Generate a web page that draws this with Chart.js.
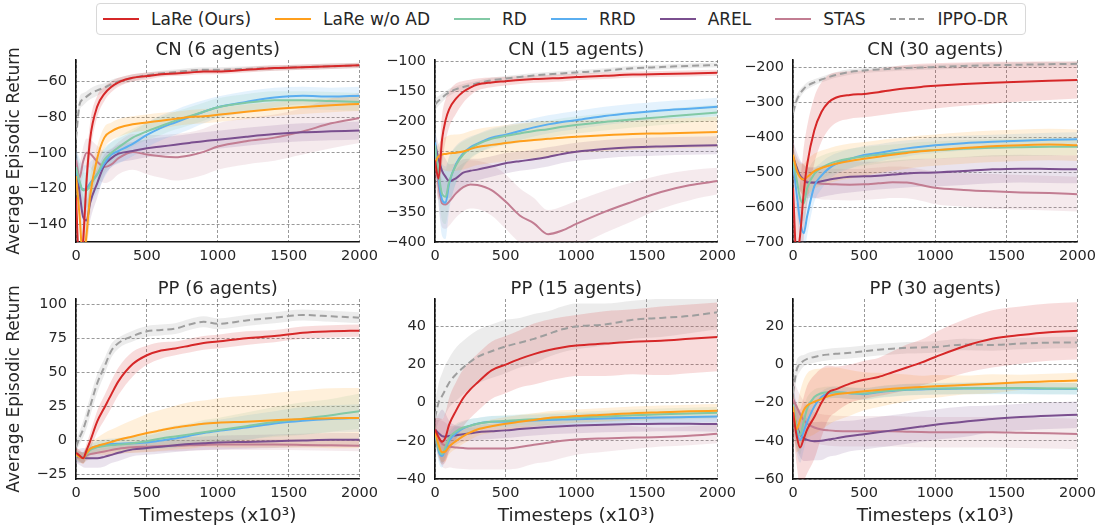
<!DOCTYPE html>
<html>
<head>
<meta charset="utf-8">
<script src="https://cdn.jsdelivr.net/npm/chart.js@4.4.1/dist/chart.umd.min.js"></script>
<style>
  body { margin: 0; width: 1100px; height: 529px; overflow: hidden; background: #fff; position: relative; font-family: 'DejaVu Sans', sans-serif; }
  #legend { position: absolute; left: 96px; top: 3px; width: 930px; height: 32px; box-sizing: border-box; border: 1px solid #d8d8d8; border-radius: 4px;
            display: flex; align-items: center; padding-left: 6px; font-size: 17px; color: #262626; background: #fff; z-index: 5; }
  .item { display: flex; align-items: center; margin-right: 24px; white-space: nowrap; }
  .swatch { width: 36px; height: 2.5px; margin-right: 12px; }
</style>
</head>
<body>
<div id="legend"></div>
<script>
// x positions (timesteps x10^3) shared by every curve
const steps = [0, 25, 50, 75, 100, 150, 200, 250, 300, 400, 500, 600, 700, 800, 900, 1000, 1200, 1400, 1600, 1800, 2000];
const xTicks = [0, 500, 1000, 1500, 2000];

const seriesNames = ['LaRe (Ours)', 'LaRe w/o AD', 'RD', 'RRD', 'AREL', 'STAS', 'IPPO-DR'];
const seriesColors = ['#d62728', '#ff9f1c', '#82c9a5', '#5aaef0', '#7a4f8f', '#c27d92', '#9e9e9e'];

// ---- CN (6 agents)
const cn6Ticks = [-140, -120, -100, -80, -60];
const cn6Lare = [-125,-165,-150,-115,-92,-74,-67,-63,-60.5,-58,-57,-56,-55.5,-55,-54.5,-54.5,-53.5,-52.5,-52,-51.5,-51];
const cn6LareSd = [8,10,10,10,9,6,4,3,2.5,2,2,1.5,1.5,1.5,1.5,1.5,1.5,1.5,1.5,1.5,1.5];
const cn6NoAd = [-113,-135,-160,-145,-124,-103,-91.5,-88,-86,-84,-83,-82,-81,-80,-79.5,-78.7,-77,-75.5,-74.3,-73.3,-72.6];
const cn6NoAdSd = [8,10,12,12,10,7,6,5,5,4.5,4.5,4.5,4,4,4,4,4,4,4,4,4];
const cn6Rd = [-108,-116,-121,-121,-118,-112,-104,-100,-97,-91.5,-88,-85,-82,-79.5,-77,-74.5,-72,-70.5,-70.5,-71,-71.5];
const cn6RdSd = [10,10,10,10,9,8,7,6,6,5,5,5,5,5,5,5,5,5,5,5,5];
const cn6Rrd = [-110,-117,-121,-120,-117,-112,-106,-101,-99,-95,-90,-86,-83,-80,-77,-74.5,-71.5,-69,-68,-68.5,-68];
const cn6RrdSd = [12,14,14,13,12,10,8,7,7,7,7,7,7,7,6.5,6,6,5.5,5,5,5];
const cn6Arel = [-108,-122,-136,-138,-128,-117,-107,-103,-100.5,-99,-97.5,-96.5,-95.5,-94.5,-93.5,-92.7,-91,-89.5,-88.5,-88,-87.5];
const cn6ArelSd = [10,12,12,12,10,8,6,5,5,5,5,5,5,5,5,5,5,5,5,5,5];
const cn6Stas = [-104,-114,-105,-100,-100.5,-105,-108,-106.5,-103,-99.5,-101,-102,-102.5,-101.5,-99.5,-96.5,-93.5,-91.5,-88,-83.5,-80.5];
const cn6StasSd = [8,8,8,8,8,9,9,9,9,10,11,12,13,13,13,13,13,13,13,14,14];
const cn6Ippo = [-92,-73,-70,-68.5,-67,-65,-63.5,-61.5,-60,-58,-56.5,-55.5,-54.8,-54,-53.5,-53.5,-53,-52.5,-52,-51.5,-51];
const cn6IppoSd = [5,4,3.5,3,3,3,2.5,2.5,2,2,1.5,1.5,1.5,1.5,1.5,1.5,1.5,1.5,1.5,1.5,1.5];

// ---- CN (15 agents)
const cn15Ticks = [-400, -350, -300, -250, -200, -150, -100];
const cn15Lare = [-265,-295,-230,-198,-180,-162,-151,-144,-139,-135.5,-133.5,-131.5,-130,-129,-128,-126.5,-124.5,-122.5,-121.5,-120.5,-119.5];
const cn15LareSd = [25,35,40,35,30,25,18,13,10,8,7,6.5,6,6,6,5.5,5.5,5,5,5,5];
const cn15NoAd = [-268,-258,-255,-254,-253,-252,-250,-246,-242.5,-239,-236,-233,-231,-229,-227,-225.5,-223,-221,-220,-219,-217.5];
const cn15NoAdSd = [15,20,25,28,30,30,30,30,30,30,30,30,30,29,28,27,26,26,25,25,25];
const cn15Rd = [-240,-285,-320,-325,-300,-272,-255,-245,-238,-229,-224,-220,-216,-213,-209,-206,-201,-197,-193,-189,-185.5];
const cn15RdSd = [20,35,45,45,40,30,22,18,16,15,15,15,15,14,14,14,14,13,13,13,13];
const cn15Rrd = [-235,-295,-330,-335,-303,-270,-253,-243,-237,-227,-222,-216,-210,-205,-201,-198,-191,-186,-182,-179,-176];
const cn15RrdSd = [20,40,60,60,45,30,22,18,16,15,15,15,15,15,15,15,15,15,15,15,15];
const cn15Arel = [-238,-262,-282,-292,-299,-294,-285,-282,-280,-275,-269.5,-266,-263,-259,-254,-250.5,-246,-243,-241.5,-240.5,-239.5];
const cn15ArelSd = [20,25,30,30,28,25,22,20,18,17,17,16,16,16,15,15,15,15,15,15,15];
const cn15Stas = [-250,-305,-336,-338,-333,-319,-309,-304.5,-305.5,-314,-333,-356,-369,-387,-381,-370,-350,-333,-317,-306,-299];
const cn15StasSd = [30,35,40,40,40,40,40,40,40,42,45,45,42,40,40,38,35,32,28,25,22];
const cn15Ippo = [-172,-166,-161,-156,-152,-146.5,-143,-140,-137,-132,-129,-126.5,-124,-122,-120.5,-119,-116,-112,-110,-108,-106.5];
const cn15IppoSd = [10,8,7,6,6,5,5,5,4.5,4.5,4,4,4,4,4,4,4,4,4,4,4];

// ---- CN (30 agents)
const cn30Ticks = [-700, -600, -500, -400, -300, -200];
const cn30Lare = [-545,-740,-680,-560,-477,-380,-328,-300,-287,-279,-276,-271,-265,-260,-256,-253,-248,-244,-241,-238.5,-236.5];
const cn30LareSd = [150,150,150,130,110,95,85,78,72,68,67,67,67,67,66,65,62,60,57,55,53];
const cn30NoAd = [-450,-493,-515,-521,-514,-497,-488,-482,-476,-468,-462,-456,-450,-445,-440,-437,-431,-426,-423,-421,-423];
const cn30NoAdSd = [30,35,40,45,50,50,50,50,50,50,48,47,46,45,45,45,45,45,45,45,45];
const cn30Rd = [-470,-520,-575,-590,-545,-505,-488,-477,-470,-461,-455,-450,-446,-442,-439,-437,-433,-430,-428.5,-427.5,-427];
const cn30RdSd = [35,45,50,50,45,40,35,32,30,28,27,26,25,25,25,25,25,25,25,25,25];
const cn30Rrd = [-470,-560,-640,-675,-625,-540,-510,-490,-477,-462,-451,-445,-438,-432,-427,-423,-417,-413,-410,-407.5,-406];
const cn30RrdSd = [40,50,60,60,55,45,38,33,30,28,26,25,24,23,22,22,21,20,20,20,20];
const cn30Arel = [-455,-485,-510,-522,-530,-530,-526,-522,-518,-513,-512,-510,-507,-504,-502,-501,-497,-492,-490,-491,-492];
const cn30ArelSd = [45,45,45,45,45,45,45,45,45,45,42,40,40,40,40,40,40,40,40,40,40];
const cn30Stas = [-470,-495,-510,-520,-527,-531,-533,-534,-535,-536,-535,-532,-529,-530,-537,-545,-551,-555,-558,-560,-563];
const cn30StasSd = [40,40,40,40,40,42,45,45,45,45,45,45,45,45,45,47,48,50,50,50,50];
const cn30Ippo = [-330,-295,-275,-262,-253,-243,-235,-228,-222,-213,-209,-206,-204,-202,-200.5,-199,-196,-194,-192.5,-191,-190];
const cn30IppoSd = [20,15,12,10,10,9,8,8,8,8,7,7,7,7,7,7,7,7,7,7,7];

// ---- PP (6 agents)
const pp6Ticks = [-25, 0, 25, 50, 75, 100];
const pp6Lare = [-9,-11,-13,-7,-0.5,14,24,34,43.5,56,62.5,66,67.5,69.5,71.5,72.5,75,76.5,79,80,80.5];
const pp6LareSd = [4,4,4,5,6,8,9,10,10,9,7,6,5,5,5,5,5,4.5,4.5,4.5,4.5];
const pp6NoAd = [-10,-12,-13,-9,-6,-4,-2.5,-1,0.5,3,5.5,7.5,9.5,11,12.3,13,13.8,14.8,15.8,16.3,16.5];
const pp6NoAdSd = [4,4,4,5,5,6,8,9,10,12,14,15,16,17,17,18,19,20,21,22,22];
const pp6Rd = [-11,-12,-12.5,-10,-7,-5,-4,-3.5,-3,-2,-0.5,1.5,3,4.5,6,7.5,10.5,13.5,16,18.5,21.5];
const pp6RdSd = [4,4,4,4,4,4,4,4,5,5,6,7,8,8,9,9,10,11,12,12,13];
const pp6Rrd = [-11,-12,-12.5,-9,-6,-4,-3,-2.5,-2.3,-2,-1.5,0,1.5,3.5,5.5,7,9.5,12.5,14.5,15.8,16.5];
const pp6RrdSd = [4,4,4,4,4,4,4,4,4,5,5,6,7,7,8,8,9,9,10,10,10];
const pp6Arel = [-11.5,-12,-12.5,-13,-13,-13,-12,-10.5,-9,-6.5,-5.5,-4.5,-3.5,-2.5,-2,-1.5,-1,-0.5,0,0.5,0.5];
const pp6ArelSd = [5,6,7,7,7,7,7,6,6,5,5,5,5,5,5,5,5,5,5,5,5];
const pp6Stas = [-12,-12.5,-12.5,-11,-10,-9,-8,-7,-6,-5,-4.5,-4,-3.8,-3.5,-3.2,-3,-3,-3,-3.2,-3.5,-3.8];
const pp6StasSd = [4,4,4,4,4,4,4,4,4,4,4,4,4,4,4,4,4,4,4,4,4];
const pp6Ippo = [-5,2,8,16,25,42,54,66,71.5,76.5,80,81,82,85,87,85.5,88,90,92,91,90];
const pp6IppoSd = [4,5,6,7,7,7,6,5,4,4,4,4,4,4,4,4,4,4,4,4,4];

// ---- PP (15 agents)
const pp15Ticks = [-40, -20, 0, 20, 40];
const pp15Lare = [-14,-18,-20.5,-18,-11.5,-4,2.5,7,10.5,17,20,23,25.5,27.5,29,30,31,32,32.5,33.5,34.5];
const pp15LareSd = [6,10,12,13,14,15,15,15,15,15,15,15,16,16,16,16,17,17,18,18,18];
const pp15NoAd = [-15,-22,-26,-25.5,-23,-20,-17.5,-15.5,-14,-12.3,-11,-10,-9,-8,-7.5,-7,-6.3,-5.5,-5,-4.5,-4.2];
const pp15NoAdSd = [4,5,5,5,4,4,4,4,3.5,3.5,3.5,3.5,3.5,3.5,3.5,3.5,3.5,3.5,3.5,3.5,3.5];
const pp15Rd = [-15,-24,-27,-23,-18.5,-15,-13,-12,-11,-10,-9.5,-9,-8.7,-8.3,-8,-7.8,-7.2,-6.6,-6,-5.6,-5.3];
const pp15RdSd = [4,5,5,5,4,4,3.5,3.5,3,3,3,3,3,3,3,3,3,3,3,3,3];
const pp15Rrd = [-15,-25,-28,-24,-20,-16,-13.5,-12,-11,-10,-10,-9.5,-9.3,-9,-8.8,-8.6,-8.3,-8,-7.8,-7.5,-7.2];
const pp15RrdSd = [4,6,6,5,4,4,3.5,3.5,3,3,3,3,3,3,3,3,3,3,3,3,3];
const pp15Arel = [-14,-16,-17.5,-17.8,-17.5,-17,-16.5,-16,-15.5,-15,-14.5,-13.8,-13.2,-12.7,-12.3,-12,-11.5,-11.2,-11,-11,-11.2];
const pp15ArelSd = [5,10,14,12,8,5,4,4,4,4,4,4,4,4,4,4,4,4,4,4,4];
const pp15Stas = [-15,-19,-21.5,-22.5,-23,-23.5,-23.8,-24,-24,-24,-24,-23.2,-22,-21,-20,-19.3,-18.7,-18.3,-18,-17.3,-16.3];
const pp15StasSd = [6,10,12,12,11,11,11,11,11,11,11,11,10,10,9,8,7,6,5,5,5];
const pp15Ippo = [-8,0,3.5,7,10.5,15,18.5,21.5,24,27,29.5,31.5,33.5,36,38.5,40,41,43.5,44.5,45.5,47.5];
const pp15IppoSd = [8,10,12,13,13,14,14,14,14,14,14,13,13,12,12,12,11,10,10,9,9];

// ---- PP (30 agents)
const pp30Ticks = [-60, -40, -20, 0, 20];
const pp30Lare = [-25,-37,-43.5,-39,-34,-27.5,-20,-14.5,-13,-10,-8,-6.5,-4,-1.5,1,4,9.5,13.5,15.5,17,17.7];
const pp30LareSd = [10,15,20,22,23,22,18,14,12,10,10,10,11,12,12,13,14,15,15,15,15];
const pp30NoAd = [-22,-34,-29,-24,-21.5,-19.5,-18,-16.5,-15.5,-14.8,-14,-13.3,-12.7,-12.2,-11.8,-11.4,-10.7,-10,-9.3,-8.8,-8.3];
const pp30NoAdSd = [8,12,15,16,17,17,16,15,14,12,10,9,8,7,6,6,5,5,4,4,4];
const pp30Rd = [-21,-32,-37,-30,-23,-17,-15,-14.5,-14.5,-15,-15.2,-14.3,-13.6,-13.1,-12.8,-12.6,-12.4,-12.3,-12.3,-12.5,-12.6];
const pp30RdSd = [10,10,10,8,6,4,3,3,3,3,3,3,3,3,3,3,3,3,3,3,3];
const pp30Rrd = [-21,-34,-39.5,-35,-30,-22,-17,-15,-14.5,-15,-15.5,-14.5,-13.8,-13.2,-13,-12.8,-12.6,-12.5,-12.5,-12.7,-12.8];
const pp30RrdSd = [10,12,12,10,8,5,3,3,3,3,3,3,3,3,3,3,3,3,3,3,3];
const pp30Arel = [-24,-32,-36.5,-38.5,-39.5,-40.2,-40,-39.3,-38.7,-37.5,-36.5,-35.5,-34.5,-33.5,-32.5,-31.5,-30,-28.5,-27.5,-26.8,-26.3];
const pp30ArelSd = [12,12,12,12,11,10,10,9,9,8,8,8,8,8,8,8,8,7,7,7,7];
const pp30Stas = [-18,-22,-26,-29,-31,-33,-34,-34.5,-34.8,-35,-35,-35,-35,-35.2,-35.4,-35.5,-35.5,-35.5,-35.8,-36,-36.4];
const pp30StasSd = [10,10,10,10,9,8,8,8,8,8,8,8,8,8,8,8,8,8,8,8,8];
const pp30Ippo = [-15,-3,0.5,2,3,4,4.8,5.3,5.7,6.2,7,7.8,8.3,8.8,9,9.2,10.5,10.3,11,11.5,11.6];
const pp30IppoSd = [8,5,4,3,3,3,3,3,3,3,3,3,3,3,3,3,3,3,3,3,3];

const panels = [
  { title: 'CN (6 agents)', row: 0, col: 0, min: -150, max: -48, ticks: cn6Ticks,
    means: [cn6Lare, cn6NoAd, cn6Rd, cn6Rrd, cn6Arel, cn6Stas, cn6Ippo],
    sds: [cn6LareSd, cn6NoAdSd, cn6RdSd, cn6RrdSd, cn6ArelSd, cn6StasSd, cn6IppoSd] },
  { title: 'CN (15 agents)', row: 0, col: 1, min: -400, max: -98.3, ticks: cn15Ticks,
    means: [cn15Lare, cn15NoAd, cn15Rd, cn15Rrd, cn15Arel, cn15Stas, cn15Ippo],
    sds: [cn15LareSd, cn15NoAdSd, cn15RdSd, cn15RrdSd, cn15ArelSd, cn15StasSd, cn15IppoSd] },
  { title: 'CN (30 agents)', row: 0, col: 2, min: -700, max: -179, ticks: cn30Ticks,
    means: [cn30Lare, cn30NoAd, cn30Rd, cn30Rrd, cn30Arel, cn30Stas, cn30Ippo],
    sds: [cn30LareSd, cn30NoAdSd, cn30RdSd, cn30RrdSd, cn30ArelSd, cn30StasSd, cn30IppoSd] },
  { title: 'PP (6 agents)', row: 1, col: 0, min: -28.2, max: 103.7, ticks: pp6Ticks,
    means: [pp6Lare, pp6NoAd, pp6Rd, pp6Rrd, pp6Arel, pp6Stas, pp6Ippo],
    sds: [pp6LareSd, pp6NoAdSd, pp6RdSd, pp6RrdSd, pp6ArelSd, pp6StasSd, pp6IppoSd] },
  { title: 'PP (15 agents)', row: 1, col: 1, min: -40, max: 54.4, ticks: pp15Ticks,
    means: [pp15Lare, pp15NoAd, pp15Rd, pp15Rrd, pp15Arel, pp15Stas, pp15Ippo],
    sds: [pp15LareSd, pp15NoAdSd, pp15RdSd, pp15RrdSd, pp15ArelSd, pp15StasSd, pp15IppoSd] },
  { title: 'PP (30 agents)', row: 1, col: 2, min: -60, max: 34.4, ticks: pp30Ticks,
    means: [pp30Lare, pp30NoAd, pp30Rd, pp30Rrd, pp30Arel, pp30Stas, pp30Ippo],
    sds: [pp30LareSd, pp30NoAdSd, pp30RdSd, pp30RrdSd, pp30ArelSd, pp30StasSd, pp30IppoSd] }
];

// plot-area geometry of the 2x3 grid
const colLeft = [76, 435, 793], colRight = [360, 718, 1078];
const rowTop = [60, 299], rowBottom = [242, 479];

const FONT = "'DejaVu Sans', sans-serif";
const TEXT = '#262626';
Chart.defaults.font.family = FONT;
Chart.defaults.color = TEXT;

function rgba(hex, a) {
  const n = parseInt(hex.slice(1), 16);
  return `rgba(${(n >> 16) & 255},${(n >> 8) & 255},${n & 255},${a})`;
}
const pts = arr => steps.map((x, i) => ({ x: x, y: arr[i] }));
const minus = v => String(v).replace('-', '\u2212');

// legend
const legend = document.getElementById('legend');
seriesNames.forEach((name, k) => {
  const item = document.createElement('div');
  item.className = 'item';
  if (k === seriesNames.length - 1) item.style.marginRight = '0';
  const sw = document.createElement('span');
  sw.className = 'swatch';
  const c = seriesColors[k];
  sw.style.background = k === 6 ? `repeating-linear-gradient(to right, ${c} 0 6px, transparent 6px 9.5px)` : c;
  const label = document.createElement('span');
  label.textContent = name;
  item.appendChild(sw);
  item.appendChild(label);
  legend.appendChild(item);
});

function makePanel(p) {
  const yw = p.col === 0 ? 76 : 62;     // y-axis box width
  const xh = p.row === 1 ? 48 : 26;     // x-axis box height
  const padR = 24, titleH = 20;
  const pw = colRight[p.col] - colLeft[p.col];
  const ph = rowBottom[p.row] - rowTop[p.row];
  const W = yw + pw + padR, H = titleH + ph + xh;

  const canvas = document.createElement('canvas');
  canvas.width = W; canvas.height = H;
  canvas.style.cssText = `position:absolute;left:${colLeft[p.col] - yw}px;top:${rowTop[p.row] - titleH}px;width:${W}px;height:${H}px;`;
  document.body.appendChild(canvas);

  const bands = [], lines = [];
  p.means.forEach((m, k) => {
    const sd = p.sds[k];
    bands.push({ data: pts(m.map((v, i) => v - sd[i])), borderWidth: 0, borderColor: 'rgba(0,0,0,0)',
                 pointRadius: 0, fill: false, order: 20, cubicInterpolationMode: 'monotone' });
    bands.push({ data: pts(m.map((v, i) => v + sd[i])), borderWidth: 0, borderColor: 'rgba(0,0,0,0)',
                 pointRadius: 0, fill: '-1', backgroundColor: rgba(seriesColors[k], k === 6 ? 0.2 : 0.16),
                 order: 20, cubicInterpolationMode: 'monotone' });
    lines.push({ label: seriesNames[k], data: pts(m), borderColor: seriesColors[k], borderWidth: 2,
                 borderDash: k === 6 ? [7, 4] : [], pointRadius: 0, fill: false, order: k,
                 cubicInterpolationMode: 'monotone' });
  });

  const grid = { color: 'rgba(0,0,0,0.5)', lineWidth: 0.8, drawTicks: false };
  const border = { display: true, color: '#111', width: 1.6, dash: [3, 2] };
  const tickFont = { family: FONT, size: 14.5 };

  new Chart(canvas, {
    type: 'line',
    data: { datasets: bands.concat(lines) },
    options: {
      responsive: false,
      animation: false,
      devicePixelRatio: 1,
      layout: { padding: { left: 0, top: 0, bottom: 0, right: padR } },
      plugins: {
        legend: { display: false },
        tooltip: { enabled: false },
        filler: { propagate: false, drawTime: 'beforeDatasetsDraw' },
        title: { display: true, text: p.title, fullSize: false, color: TEXT,
                 font: { family: FONT, size: 18, weight: 'normal', lineHeight: '20px' },
                 padding: { top: 0, bottom: 0 } }
      },
      scales: {
        x: {
          type: 'linear', min: 0, max: 2000,
          afterBuildTicks: s => { s.ticks = xTicks.map(v => ({ value: v })); },
          afterFit: s => { s.height = xh; },
          ticks: { font: tickFont, color: TEXT, padding: 6, maxRotation: 0, autoSkip: false, callback: v => String(v) },
          grid: grid, border: border,
          title: { display: p.row === 1, text: 'Timesteps (x10\u00b3)', color: TEXT,
                   font: { family: FONT, size: 18.5 }, padding: { top: 0, bottom: 0 } }
        },
        y: {
          type: 'linear', min: p.min, max: p.max,
          afterBuildTicks: s => { s.ticks = p.ticks.map(v => ({ value: v })); },
          afterFit: s => { s.width = yw; },
          ticks: { font: tickFont, color: TEXT, padding: 9, autoSkip: false, callback: v => minus(v) },
          grid: grid, border: border,
          title: { display: p.col === 0, text: 'Average Episodic Return', color: TEXT,
                   font: { family: FONT, size: 17 }, padding: { top: 4.5, bottom: 0 } }
        }
      }
    }
  });
}

panels.forEach(makePanel);
</script>
</body>
</html>
